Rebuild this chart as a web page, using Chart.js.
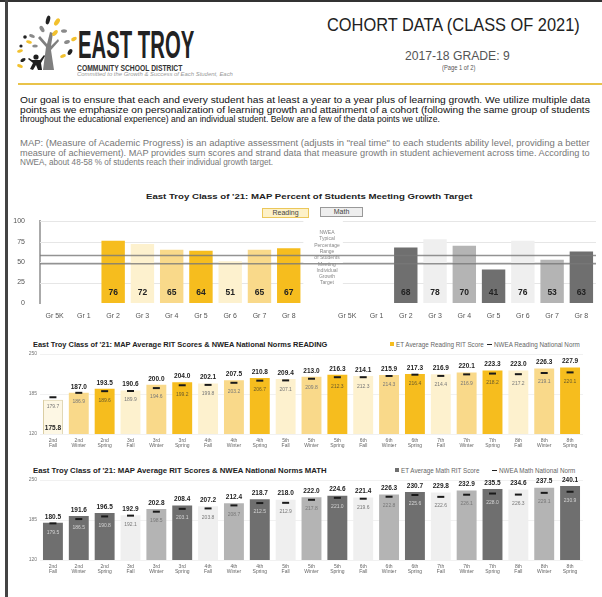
<!DOCTYPE html>
<html>
<head>
<meta charset="utf-8">
<script src="https://cdn.jsdelivr.net/npm/chart.js@4"></script>
<style>
  html, body { margin: 0; padding: 0; background: #fff; }
  body { width: 602px; height: 597px; overflow: hidden; position: relative; font-family: "Liberation Sans", Arial, sans-serif; }
  .t { position: absolute; white-space: nowrap; line-height: 1; transform-origin: 0 0; }
  canvas { position: absolute; left: 0; }
  .box { position: absolute; height: 8px; font-size: 7px; line-height: 8px; text-align: center; color: #444; }
  .sq { display: inline-block; width: 4px; height: 4px; margin-right: 2px; vertical-align: 1px; }
  .dash { display: inline-block; width: 5px; height: 1.5px; background: #222; margin-right: 2px; vertical-align: 2px; }
</style>
</head>
<body>
<div style="position:absolute;left:0;top:0;width:602px;height:2px;background:#333"></div>
<div style="position:absolute;left:5px;top:0;width:3px;height:597px;background:#444"></div>

<!-- logo -->
<svg style="position:absolute;left:13px;top:13px" width="66" height="68" viewBox="0 0 66 68">
  <path d="M30 57 L33 34 L25 25 L27 23 L34 31 L37 19 L40 20 L38 33 L45 26 L46 28 L38 37 L41 57 Z" fill="#7f7f7f"/>
  <circle cx="23" cy="44" r="2.6" fill="#1e1e1e"/>
  <path d="M19 47 L27 47 L31 42 L32 43 L28 50 L29 57 L25 57 L23 52 L20 57 L17 56 L20 50 L15 46 L16 45 Z" fill="#1e1e1e"/>
  <ellipse cx="35" cy="7" rx="2" ry="4.5" transform="rotate(15 35 7)" fill="#222"/>
  <ellipse cx="44" cy="9" rx="2.2" ry="4" transform="rotate(35 44 9)" fill="#f2c12e"/>
  <ellipse cx="29" cy="16" rx="2" ry="3.5" transform="rotate(-30 29 16)" fill="#8a8a8a"/>
  <ellipse cx="42" cy="20" rx="2" ry="3.5" transform="rotate(40 42 20)" fill="#f2c12e"/>
  <ellipse cx="51" cy="18" rx="3" ry="1.8" fill="#8a8a8a"/>
  <circle cx="12" cy="24" r="1.8" fill="#222"/>
  <ellipse cx="19" cy="23" rx="3" ry="1.6" transform="rotate(20 19 23)" fill="#8a8a8a"/>
  <ellipse cx="16" cy="29" rx="3" ry="1.6" transform="rotate(15 16 29)" fill="#f2c12e"/>
  <circle cx="8" cy="33" r="1.6" fill="#222"/>
  <ellipse cx="22" cy="33" rx="2.8" ry="1.5" fill="#8a8a8a"/>
  <ellipse cx="7" cy="38" rx="3" ry="1.6" transform="rotate(-15 7 38)" fill="#f2c12e"/>
  <ellipse cx="54" cy="29" rx="3" ry="1.8" transform="rotate(-20 54 29)" fill="#8a8a8a"/>
  <ellipse cx="61" cy="26" rx="3" ry="1.8" transform="rotate(-25 61 26)" fill="#f2c12e"/>
  <ellipse cx="57" cy="39" rx="2" ry="3.2" transform="rotate(30 57 39)" fill="#222"/>
  <ellipse cx="50" cy="43" rx="3" ry="1.7" transform="rotate(-20 50 43)" fill="#f2c12e"/>
  <ellipse cx="10" cy="47" rx="2.8" ry="1.6" transform="rotate(-30 10 47)" fill="#222"/>
  <ellipse cx="7" cy="53" rx="3" ry="1.6" transform="rotate(20 7 53)" fill="#f2c12e"/>
</svg>
<div class="t" data-w="116" style="left:78px;top:26px;font-size:38px;font-weight:bold;color:#222">EAST TROY</div>
<div class="t" data-w="105" style="left:77px;top:64px;font-size:8.5px;font-weight:bold;color:#333">COMMUNITY SCHOOL DISTRICT</div>
<div class="t" data-w="156" style="left:77px;top:72px;font-size:5.5px;font-style:italic;color:#999">Committed to the Growth &amp; Success of Each Student, Each</div>

<div class="t" data-w="253" style="left:327px;top:16px;font-size:18px;color:#222">COHORT DATA (CLASS OF 2021)</div>
<div class="t" data-w="105" style="left:405px;top:50px;font-size:12.5px;color:#555">2017-18 GRADE: 9</div>
<div class="t" data-w="33" style="left:442px;top:64px;font-size:7px;color:#555">(Page 1 of 2)</div>
<div style="position:absolute;left:18px;top:83px;width:584px;height:2px;background:#e9c34a"></div>

<div class="t" data-w="570" style="left:20px;top:95.5px;font-size:9px;color:#111">Our goal is to ensure that each and every student has at least a year to a year plus of learning growth. We utilize multiple data</div>
<div class="t" data-w="570" style="left:20px;top:105.5px;font-size:9px;color:#111">points as we emphasize on personalization of learning growth and attainment of a cohort (following the same group of students</div>
<div class="t" data-w="420" style="left:20px;top:115px;font-size:9px;color:#111">throughout the educational experience) and an individual student. Below are a few of the data points we utilize.</div>

<div class="t" data-w="570" style="left:20px;top:139px;font-size:8.5px;color:#777">MAP: (Measure of Academic Progress) is an adaptive assessment (adjusts in "real time" to each students ability level, providing a better</div>
<div class="t" data-w="570" style="left:20px;top:148.5px;font-size:8.5px;color:#777">measure of achievement). MAP provides sum scores and strand data that measure growth in student achievement across time. According to</div>
<div class="t" data-w="253" style="left:20px;top:158px;font-size:8.5px;color:#777">NWEA, about 48-58 % of students reach their individual growth target.</div>

<!-- chart 1 -->
<div class="t" data-w="326" style="left:146px;top:193px;font-size:8px;font-weight:bold;color:#222">East Troy Class of '21: MAP Percent of Students Meeting Growth Target</div>
<div class="box" style="left:262px;top:208px;width:45px;background:#fdf1c8;border:1px solid #ebc75a">Reading</div>
<div class="box" style="left:320px;top:207px;width:41px;background:#eeeeee;border:1px solid #999">Math</div>
<canvas id="growth" width="602" height="115" style="top:210px"></canvas>

<!-- chart 2 -->
<div class="t" data-w="294" style="left:33px;top:341px;font-size:7px;font-weight:bold;color:#222">East Troy Class of '21: MAP Average RIT Scores &amp; NWEA National Norms READING</div>
<div class="t" style="left:390px;top:342px;font-size:6.3px;color:#666"><span class="sq" style="background:#f6bd1e"></span>ET Average Reading RIT Score</div>
<div class="t" style="left:487px;top:342px;font-size:6.3px;color:#666"><span class="dash"></span>NWEA Reading National Norm</div>
<canvas id="reading" width="602" height="102" style="top:348px"></canvas>

<!-- chart 3 -->
<div class="t" data-w="294" style="left:33px;top:466.5px;font-size:7px;font-weight:bold;color:#222">East Troy Class of '21: MAP Average RIT Scores &amp; NWEA National Norms MATH</div>
<div class="t" style="left:395px;top:468px;font-size:6.3px;color:#666"><span class="sq" style="background:#6f6f6f"></span>ET Average Math RIT Score</div>
<div class="t" style="left:492px;top:468px;font-size:6.3px;color:#666"><span class="dash"></span>NWEA Math National Norm</div>
<canvas id="math" width="602" height="102" style="top:474px"></canvas>

<script>
// growth target chart
const grades = ['Gr 5K', 'Gr 1', 'Gr 2', 'Gr 3', 'Gr 4', 'Gr 5', 'Gr 6', 'Gr 7', 'Gr 8'];
const readingPct = [null, null, 76, 72, 65, 64, 51, 65, 67];
const mathPct = [null, null, 68, 78, 70, 41, 76, 53, 63];
const targetBand = [48, 58];
const bandNote = ['NWEA', 'Typical', 'Percentage', 'Range', 'of Students', 'Meeting', 'Individual', 'Growth', 'Target'];

// RIT charts
const gradeNames = ['2nd', '3rd', '4th', '5th', '6th', '7th', '8th'];
const seasons = ['Fall', 'Winter', 'Spring'];
const readingRit = [175.8, 187.0, 193.5, 190.6, 200.0, 204.0, 202.1, 207.5, 210.8, 209.4, 213.0, 216.3, 214.1, 215.9, 217.3, 216.9, 220.1, 223.3, 223.0, 226.3, 227.9];
const readingNorm = [179.7, 186.9, 189.6, 189.9, 194.6, 199.2, 199.8, 203.2, 206.7, 207.1, 209.8, 212.3, 212.3, 214.3, 216.4, 214.4, 216.9, 218.2, 217.2, 219.1, 220.1];
const mathRit = [180.5, 191.6, 196.5, 192.9, 202.8, 208.4, 207.2, 212.4, 218.7, 218.0, 222.0, 224.6, 221.4, 226.3, 230.7, 229.8, 232.9, 235.5, 234.6, 237.5, 240.1];
const mathNorm = [179.5, 186.5, 190.8, 192.1, 198.5, 203.1, 203.8, 208.7, 212.5, 212.9, 217.8, 221.0, 219.6, 222.8, 225.6, 222.6, 226.1, 228.0, 226.3, 229.1, 230.9];

const FONT = '"Liberation Sans", Arial, sans-serif';
const gold = { pale: '#fdf1ce', mid: '#f9d98a', dark: '#f6bd1e' };
const gray = { pale: '#efefef', mid: '#b4b4b4', dark: '#6f6f6f' };

Chart.defaults.font.family = FONT;

const ritLabels = [];
gradeNames.forEach(g => seasons.forEach(s => ritLabels.push([g, s])));

// shades for the growth chart, Gr 2 .. Gr 8 cycle dark / pale / mid
const cycle = ['dark', 'pale', 'mid'];
const growthShade = (pal, light) => grades.map((g, i) => i < 2 ? light : pal[cycle[(i - 2) % 3]]);
const blanks = grades.map(() => null);

const growthPlugin = {
  id: 'growthExtras',
  beforeDatasetsDraw(chart) {
    const { ctx, chartArea, scales: { x, y } } = chart;
    ctx.save();
    ctx.strokeStyle = '#e6e6e6';
    ctx.lineWidth = 1;
    [25, 50, 75, 100].forEach(v => {
      const py = Math.round(y.getPixelForValue(v)) + 0.5;
      ctx.beginPath();
      ctx.moveTo(chartArea.left, py); ctx.lineTo(x.getPixelForValue(8.5), py);
      ctx.moveTo(x.getPixelForValue(9.85), py); ctx.lineTo(chartArea.right, py);
      ctx.stroke();
    });
    ctx.restore();
  },
  afterDatasetsDraw(chart) {
    const { ctx, chartArea, scales: { x, y } } = chart;
    ctx.save();
    ctx.strokeStyle = 'rgba(120,120,120,0.8)';
    ctx.lineWidth = 1.5;
    targetBand.forEach(v => {
      const py = y.getPixelForValue(v);
      ctx.beginPath(); ctx.moveTo(chartArea.left, py); ctx.lineTo(chartArea.right, py); ctx.stroke();
    });
    ctx.textAlign = 'center';
    ctx.textBaseline = 'middle';
    ctx.font = 'bold 8.5px ' + FONT;
    ctx.fillStyle = '#222';
    chart.data.datasets.forEach((ds, i) => {
      chart.getDatasetMeta(i).data.forEach((bar, j) => {
        if (ds.data[j] == null) return;
        ctx.fillText(ds.data[j], bar.x, y.getPixelForValue(0) - 10);
      });
    });
    ctx.font = '5px ' + FONT;
    ctx.fillStyle = '#888';
    const nx = x.getPixelForValue(grades.length) + 9;
    bandNote.forEach((line, k) => ctx.fillText(line, nx, y.getPixelForValue(86) + k * 6.3));
    ctx.restore();
  }
};

new Chart(document.getElementById('growth'), {
  type: 'bar',
  data: {
    labels: grades.concat([''], grades),
    datasets: [
      { label: 'Reading', data: readingPct.concat([null], blanks), backgroundColor: growthShade(gold, gold.pale).concat(['#fff'], blanks) },
      { label: 'Math', data: blanks.concat([null], mathPct), backgroundColor: blanks.concat(['#fff'], growthShade(gray, gray.pale)) }
    ]
  },
  options: {
    responsive: false,
    animation: false,
    layout: { padding: { top: 1, right: 6, left: 0, bottom: 0 } },
    plugins: { legend: { display: false }, tooltip: { enabled: false } },
    datasets: { bar: { grouped: false, categoryPercentage: 1, barPercentage: 0.8 } },
    scales: {
      x: {
        grid: { display: false, drawTicks: false }, border: { display: false },
        ticks: { font: { size: 7 }, color: '#555', padding: 9, autoSkip: false, maxRotation: 0 },
        afterFit: s => { s.height = 22; }
      },
      y: {
        min: 0, max: 100,
        ticks: { stepSize: 25, font: { size: 7 }, color: '#555', padding: 7 },
        grid: { display: false },
        border: { display: true, color: '#aaa', width: 2 },
        afterFit: s => { s.width = 40; }
      }
    }
  },
  plugins: [growthPlugin]
});

const ritPlugin = {
  id: 'ritValues',
  afterDatasetsDraw(chart) {
    const { ctx, scales: { y } } = chart;
    const et = chart.data.datasets[0].data;
    const norm = chart.data.datasets[1].data;
    const bars = chart.getDatasetMeta(0).data;
    const marks = chart.getDatasetMeta(1).data;
    const noteColors = chart.data.datasets[1].noteColors;
    const base = y.getPixelForValue(y.min);
    ctx.save();
    ctx.textAlign = 'center';
    ctx.textBaseline = 'middle';
    bars.forEach((bar, i) => {
      ctx.font = 'bold 6.5px ' + FONT;
      ctx.fillStyle = '#222';
      const ly = norm[i] > et[i] ? base - 6 : bar.y - 6;
      ctx.fillText(et[i].toFixed(1), bar.x, ly);
      ctx.font = '5px ' + FONT;
      ctx.fillStyle = noteColors[i];
      ctx.fillText(norm[i].toFixed(1), bar.x, marks[i].y + 9);
    });
    ctx.restore();
  }
};

function ritChart(id, et, norm, colors, noteColors, borders) {
  return new Chart(document.getElementById(id), {
    type: 'bar',
    data: {
      labels: ritLabels,
      datasets: [
        { label: 'ET Average', data: et, backgroundColor: colors, borderColor: borders, borderWidth: borders.map(b => b ? 1 : 0), categoryPercentage: 1, barPercentage: 0.77, order: 2 },
        { type: 'line', label: 'NWEA Norm', data: norm, noteColors: noteColors, showLine: false, pointStyle: 'line', pointRadius: 3.5, pointBorderWidth: 2, borderColor: '#1a1a1a', pointBorderColor: '#1a1a1a', order: 1 }
      ]
    },
    options: {
      responsive: false,
      animation: false,
      layout: { padding: { top: 1, right: 19, left: 0, bottom: 0 } },
      plugins: { legend: { display: false }, tooltip: { enabled: false } },
      scales: {
        x: {
          grid: { display: false, drawTicks: false }, border: { display: false },
          ticks: { font: { size: 5, lineHeight: 1 }, color: '#666', padding: 4, autoSkip: false, maxRotation: 0 },
          afterFit: s => { s.height = 16; }
        },
        y: {
          min: 120, max: 250,
          ticks: { stepSize: 65, font: { size: 5 }, color: '#777', padding: 3 },
          grid: { color: '#f1f1f1', drawTicks: false },
          border: { display: false },
          afterFit: s => { s.width = 40; }
        }
      }
    },
    plugins: [ritPlugin]
  });
}

const readingColors = ritLabels.map((l, i) => [gold.pale, gold.mid, gold.dark][i % 3]);
readingColors[0] = '#fdf7e4';
const readingBorders = ritLabels.map((l, i) => i === 0 ? '#d9cda2' : null);
const readingNotes = readingColors.map(c => c === gold.dark ? '#6a5a2a' : '#777');
ritChart('reading', readingRit, readingNorm, readingColors, readingNotes, readingBorders);

const mathColors = ritLabels.map((l, i) => i < 3 ? gray.dark : [gray.pale, gray.mid, gray.dark][i % 3]);
const mathNotes = mathColors.map(c => c === gray.dark ? '#d4d4d4' : '#777');
ritChart('math', mathRit, mathNorm, mathColors, mathNotes, ritLabels.map(() => null));

// squeeze the page text to the widths of the original scan
document.fonts.ready.then(() => {
  document.querySelectorAll('[data-w]').forEach(el => {
    el.style.transform = 'scaleX(' + (+el.dataset.w / el.offsetWidth) + ')';
  });
});
</script>
</body>
</html>
